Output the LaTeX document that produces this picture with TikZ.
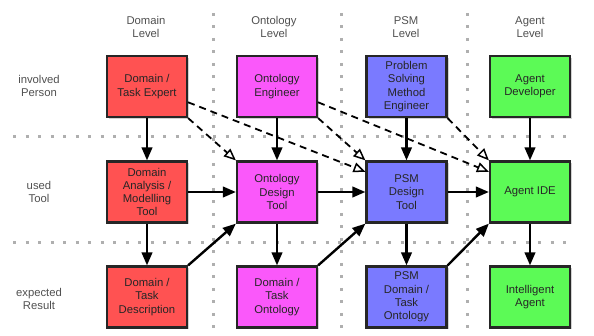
\documentclass[tikz,border=0pt]{standalone}
\usepackage{fontspec}
\setmainfont{Liberation Sans}
\usetikzlibrary{arrows.meta,calc,shadows}

\definecolor{domainred}{RGB}{255,82,82}
\definecolor{ontomag}{RGB}{250,88,250}
\definecolor{psmblue}{RGB}{122,122,255}
\definecolor{agentgreen}{RGB}{92,250,86}
\definecolor{labelgray}{RGB}{80,80,80}
\definecolor{gridgray}{RGB}{175,175,175}

\tikzset{
  stage/.style={draw=black!85, line width=2.2pt, minimum width=80pt, minimum height=61pt,
    inner sep=0pt, align=center, font=\fontsize{11.3}{13.2}\selectfont, text=black!85,
    drop shadow={shadow xshift=2pt, shadow yshift=-2pt, fill=gray!35, opacity=1}},
  heading/.style={align=center, text=labelgray, font=\fontsize{11.3}{13.2}\selectfont},
  gridline/.style={draw=gridgray, line width=3pt, dash pattern=on 3pt off 9.5pt},
  flow/.style={line width=2.4pt, -{Triangle[length=13pt,width=10.5pt]}},
  hint/.style={line width=1.8pt, dash pattern=on 7pt off 5pt,
    -{Triangle[open,length=12pt,width=10pt,line width=1.5pt]}},
}

\begin{document}
\begin{tikzpicture}[x=1pt,y=-1pt]
  \useasboundingbox (0,0) rectangle (594,336);

  % level separators
  \path[gridline] (13,137) -- (572,137);
  \path[gridline] (13,243) -- (572,243);
  \path[gridline] (213,13) -- (213,336);
  \path[gridline] (341,13) -- (341,336);
  \path[gridline] (467,13) -- (467,336);

  % column headings
  \node[heading] (hdom) at (146,27) {Domain\\Level};
  \node[heading] (hont) at (274,27) {Ontology\\Level};
  \node[heading] (hpsm) at (406,27) {PSM\\Level};
  \node[heading] (hagt) at (530,27) {Agent\\Level};

  % row headings
  \node[heading] (rper) at (39,86) {involved\\Person};
  \node[heading] (rtool) at (39,192) {used\\Tool};
  \node[heading] (rres) at (39,299) {expected\\Result};

  % domain level
  \node[stage, fill=domainred] (dexp) at (147,86.5) {Domain /\\Task Expert};
  \node[stage, fill=domainred] (dtool) at (147,192) {Domain\\Analysis /\\Modelling\\Tool};
  \node[stage, fill=domainred] (ddesc) at (147,297) {Domain /\\Task\\Description};

  % ontology level
  \node[stage, fill=ontomag] (oeng) at (277,86.5) {Ontology\\Engineer};
  \node[stage, fill=ontomag] (otool) at (277,192) {Ontology\\Design\\Tool};
  \node[stage, fill=ontomag] (oonto) at (277,297) {Domain /\\Task\\Ontology};

  % PSM level
  \node[stage, fill=psmblue] (peng) at (406.5,86.5) {Problem\\Solving\\Method\\Engineer};
  \node[stage, fill=psmblue] (ptool) at (406.5,192) {PSM\\Design\\Tool};
  \node[stage, fill=psmblue] (ponto) at (406.5,297) {PSM\\Domain /\\Task\\Ontology};

  % agent level
  \node[stage, fill=agentgreen] (adev) at (530,86.5) {Agent\\Developer};
  \node[stage, fill=agentgreen] (aide) at (530,192) {Agent IDE};
  \node[stage, fill=agentgreen] (aint) at (530,297) {Intelligent\\Agent};

  % vertical flow within each level
  \foreach \a/\b in {dexp/dtool, dtool/ddesc, oeng/otool, otool/oonto,
                     peng/ptool, ptool/ponto, adev/aide, aide/aint}
    \draw[flow] (\a.south) -- (\b.north);

  % tool chain
  \draw[flow] (dtool.east) -- (otool.west);
  \draw[flow] (otool.east) -- (ptool.west);
  \draw[flow] (ptool.east) -- (aide.west);

  % results feeding the next tool
  \draw[flow] (ddesc.north east) -- (otool.south west);
  \draw[flow] (oonto.north east) -- (ptool.south west);
  \draw[flow] (ponto.north east) -- (aide.south west);

  % persons informing later tools
  \draw[hint] (dexp.south east) -- (otool.north west);
  \draw[hint] (oeng.south east) -- (ptool.north west);
  \draw[hint] (peng.south east) -- (aide.north west);
  \draw[hint] ($(dexp.south east)!0.25!(dexp.north east)$) -- ($(ptool.north west)!0.18!(ptool.south west)$);
  \draw[hint] ($(oeng.south east)!0.25!(oeng.north east)$) -- ($(aide.north west)!0.18!(aide.south west)$);
\end{tikzpicture}
\end{document}
